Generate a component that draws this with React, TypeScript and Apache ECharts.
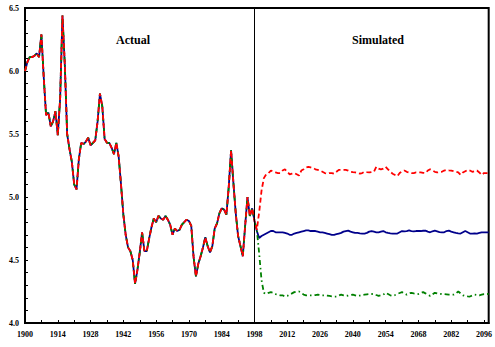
import React, { useEffect, useRef } from "react";
import * as echarts from "echarts";

// Observed index, 1900–1998
const actualStart = 1900;
const actualValues = [
  6.0, 6.07, 6.11, 6.11, 6.12, 6.14, 6.11, 6.29, 5.95, 5.65,
  5.67, 5.56, 5.6, 5.68, 5.49, 5.78, 6.44, 6.05, 5.5, 5.38,
  5.28, 5.1, 5.06, 5.3, 5.43, 5.42, 5.44, 5.47, 5.41, 5.43,
  5.45, 5.6, 5.82, 5.72, 5.46, 5.43, 5.43, 5.39, 5.34, 5.43,
  5.32, 5.1, 4.86, 4.7, 4.6, 4.57, 4.5, 4.31, 4.42, 4.56,
  4.72, 4.57, 4.57, 4.67, 4.76, 4.83, 4.8, 4.85, 4.83, 4.82,
  4.85, 4.82, 4.78, 4.7, 4.75, 4.73, 4.74, 4.78, 4.8, 4.82,
  4.81, 4.77, 4.52, 4.37, 4.47, 4.53, 4.6, 4.68, 4.61, 4.56,
  4.61, 4.75, 4.79, 4.87, 4.91, 4.9, 4.86, 5.08, 5.37, 5.11,
  4.87, 4.69, 4.61, 4.53, 4.77, 5.0, 4.85, 4.91, 4.81,
];

// Simulated paths, 1999–2098
const simStart = 1999;
const simUpper = [
  4.74, 4.88, 5.05, 5.15, 5.18, 5.19, 5.21, 5.2, 5.195, 5.19,
  5.19, 5.21, 5.22, 5.2, 5.18, 5.185, 5.19, 5.18, 5.17, 5.21,
  5.22, 5.235, 5.24, 5.235, 5.23, 5.22, 5.215, 5.21, 5.2, 5.19,
  5.185, 5.19, 5.19, 5.185, 5.2, 5.215, 5.215, 5.215, 5.215, 5.21,
  5.2, 5.197, 5.195, 5.19, 5.185, 5.19, 5.2, 5.197, 5.195, 5.198,
  5.2, 5.24, 5.225, 5.22, 5.225, 5.24, 5.22, 5.2, 5.185, 5.175,
  5.165, 5.19, 5.205, 5.21, 5.2, 5.195, 5.19, 5.19, 5.195, 5.195,
  5.195, 5.192, 5.19, 5.21, 5.22, 5.21, 5.2, 5.195, 5.198, 5.2,
  5.21, 5.215, 5.212, 5.21, 5.205, 5.2, 5.195, 5.175, 5.195, 5.205,
  5.215, 5.21, 5.2, 5.205, 5.21, 5.195, 5.175, 5.19, 5.19, 5.19,
];
const simMiddle = [
  4.73, 4.675, 4.69, 4.7, 4.71, 4.72, 4.73, 4.73, 4.72, 4.72,
  4.72, 4.72, 4.715, 4.71, 4.7, 4.7, 4.71, 4.715, 4.72, 4.725,
  4.73, 4.735, 4.735, 4.73, 4.73, 4.73, 4.725, 4.72, 4.72, 4.715,
  4.71, 4.705, 4.7, 4.7, 4.705, 4.71, 4.715, 4.725, 4.73, 4.733,
  4.725, 4.72, 4.715, 4.715, 4.712, 4.71, 4.71, 4.715, 4.725, 4.73,
  4.725, 4.72, 4.72, 4.725, 4.73, 4.72, 4.715, 4.712, 4.71, 4.71,
  4.71, 4.72, 4.73, 4.728, 4.73, 4.735, 4.73, 4.728, 4.73, 4.73,
  4.73, 4.732, 4.733, 4.725, 4.72, 4.728, 4.733, 4.728, 4.722, 4.72,
  4.72, 4.73, 4.733, 4.725, 4.72, 4.715, 4.712, 4.71, 4.72, 4.73,
  4.72, 4.71, 4.71, 4.712, 4.71, 4.715, 4.72, 4.72, 4.72, 4.72,
];
const simLower = [
  4.74, 4.55, 4.34, 4.24, 4.23, 4.24, 4.245, 4.24, 4.23, 4.225,
  4.22, 4.22, 4.21, 4.215, 4.225, 4.235, 4.245, 4.25, 4.25, 4.24,
  4.225, 4.22, 4.22, 4.22, 4.22, 4.222, 4.225, 4.222, 4.22, 4.22,
  4.218, 4.215, 4.212, 4.21, 4.21, 4.218, 4.225, 4.22, 4.215, 4.218,
  4.222, 4.225, 4.22, 4.215, 4.218, 4.222, 4.225, 4.228, 4.23, 4.23,
  4.23, 4.222, 4.215, 4.22, 4.225, 4.24, 4.23, 4.22, 4.215, 4.222,
  4.23, 4.238, 4.245, 4.235, 4.225, 4.235, 4.24, 4.235, 4.232, 4.23,
  4.238, 4.245, 4.235, 4.225, 4.215, 4.228, 4.24, 4.235, 4.232, 4.23,
  4.23, 4.228, 4.225, 4.225, 4.225, 4.235, 4.25, 4.235, 4.22, 4.215,
  4.212, 4.21, 4.218, 4.225, 4.222, 4.22, 4.225, 4.23, 4.23, 4.23,
];

const splitYear = 1998;
const panelTitles = ["Actual", "Simulated"];

const toPairs = (start: number, values: number[]) =>
  values.map((v, i) => [start + i, v]);

const withHistory = (sim: number[]) => [
  ...toPairs(actualStart, actualValues),
  ...toPairs(simStart, sim),
];

const FONT = "'Liberation Serif', 'Times New Roman', serif";

export default function App() {
  const ref = useRef<HTMLDivElement>(null);

  useEffect(() => {
    document.body.style.margin = "0";
    if (!ref.current) return;
    const chart = echarts.init(ref.current, undefined, { renderer: "svg" });

    const lineBase = {
      type: "line" as const,
      showSymbol: false,
      symbol: "none",
      smooth: false,
    };

    chart.setOption({
      animation: false,
      backgroundColor: "#ffffff",
      grid: {
        left: 25,
        right: 1,
        top: 8,
        bottom: 24,
        show: true,
        borderColor: "#000",
        borderWidth: 2,
      },
      xAxis: {
        type: "value",
        min: 1900,
        max: 2098,
        interval: 7,
        axisLine: { lineStyle: { color: "#000", width: 2 } },
        axisTick: { inside: true, length: 3, lineStyle: { color: "#000", width: 1 } },
        splitLine: { show: false },
        axisLabel: {
          margin: 7,
          fontFamily: FONT,
          fontWeight: "bold",
          fontSize: 8,
          color: "#000",
          formatter: (v: number) =>
            (v - 1900) % 14 === 0 && v <= 2096 ? String(v) : "",
        },
      },
      yAxis: {
        type: "value",
        min: 4.0,
        max: 6.5,
        interval: 0.5,
        axisLine: { show: true, lineStyle: { color: "#000", width: 2 } },
        axisTick: { show: true, inside: true, length: 3, lineStyle: { color: "#000", width: 1 } },
        minorTick: { show: true, splitNumber: 5, length: 3, lineStyle: { color: "#000", width: 1 } },
        splitLine: { show: false },
        axisLabel: {
          margin: 6,
          fontFamily: FONT,
          fontWeight: "bold",
          fontSize: 8,
          color: "#000",
          formatter: (v: number) => v.toFixed(1),
        },
      },
      graphic: [
        {
          type: "text",
          x: 133,
          y: 40,
          style: {
            text: panelTitles[0],
            font: `bold 12px ${FONT}`,
            fill: "#000",
            textAlign: "center",
            textVerticalAlign: "middle",
          },
        },
        {
          type: "text",
          x: 378,
          y: 40,
          style: {
            text: panelTitles[1],
            font: `bold 12px ${FONT}`,
            fill: "#000",
            textAlign: "center",
            textVerticalAlign: "middle",
          },
        },
      ],
      series: [
        {
          ...lineBase,
          name: "middle",
          data: withHistory(simMiddle),
          lineStyle: { color: "#00008b", width: 1.8, type: "solid" },
          z: 2,
          markLine: {
            silent: true,
            symbol: ["none", "none"],
            label: { show: false },
            lineStyle: { color: "#000", width: 1, type: "solid" },
            data: [{ xAxis: splitYear }],
          },
        },
        {
          ...lineBase,
          name: "lower",
          data: withHistory(simLower),
          lineStyle: { color: "#008000", width: 1.8, type: [5, 3, 1.5, 3] },
          z: 3,
        },
        {
          ...lineBase,
          name: "upper",
          data: withHistory(simUpper),
          lineStyle: { color: "#ff0000", width: 1.8, type: [5, 3] },
          z: 4,
        },
      ],
    });

    return () => chart.dispose();
  }, []);

  return <div ref={ref} style={{ width: 495, height: 347 }} />;
}
